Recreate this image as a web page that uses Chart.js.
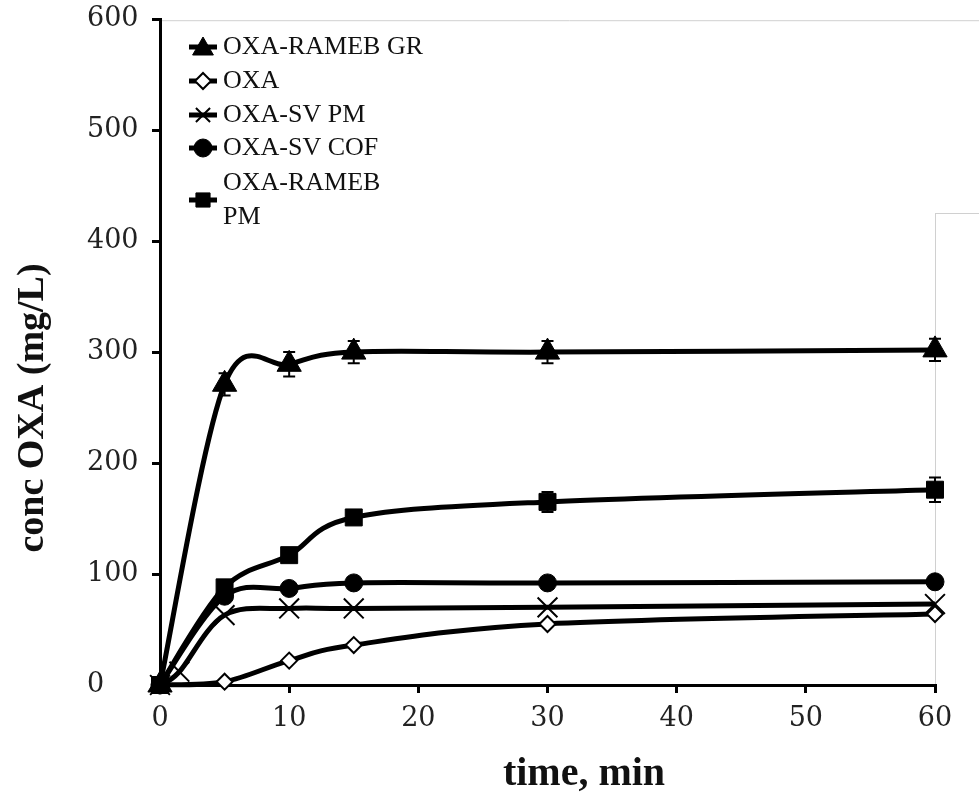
<!DOCTYPE html>
<html>
<head>
<meta charset="utf-8">
<title>conc OXA vs time</title>
<script src="https://cdn.jsdelivr.net/npm/chart.js@4.4.1/dist/chart.umd.min.js"></script>
<style>
  html, body { margin: 0; padding: 0; background: #fff; }
  #wrap { width: 979px; height: 799px; }
</style>
</head>
<body>
<div id="wrap"><canvas id="chart" width="979" height="799"></canvas></div>
<script>
// --- data (time in min, conc in mg/L) ---
const times = [0, 5, 10, 15, 30, 60];
const svPmTimes = [0, 1.5, 5, 10, 15, 30, 60];

const ramebGr = [0, 271, 289, 300, 300, 302];
const ramebGrErr = [0, 10, 11, 10, 10, 10];
const oxa = [0, 3, 22, 36, 55, 64];
const svPm = [0, 12, 63, 69, 69, 70, 73];
const svCof = [0, 80, 87, 92, 92, 93];
const ramebPm = [0, 88, 117, 151, 165, 176];
const ramebPmErr = [0, 4, 4, 5, 9, 11];

const xTicks = [0, 10, 20, 30, 40, 50, 60];
const yTicks = [0, 100, 200, 300, 400, 500, 600];

const seriesLabels = ['OXA-RAMEB GR', 'OXA', 'OXA-SV PM', 'OXA-SV COF', ['OXA-RAMEB', 'PM']];

const toPoints = (xs, ys) => xs.map((x, i) => ({ x: x, y: ys[i] }));

function series(label, xs, ys, style, extra) {
    return Object.assign({
        label: label,
        data: toPoints(xs, ys),
        borderColor: '#000',
        borderWidth: 5,
        tension: 0.4,
        pointBorderColor: '#000',
        pointBackgroundColor: '#000',
        pointStyle: style,
        clip: false
    }, extra || {});
}

const datasets = [
    series('OXA-RAMEB GR', times, ramebGr, 'triangle', { pointRadius: 14, pointBorderWidth: 1, err: ramebGrErr }),
    series('OXA', times, oxa, 'rectRot', { pointRadius: 8, pointBorderWidth: 2, pointBackgroundColor: '#fff' }),
    series('OXA-SV PM', svPmTimes, svPm, 'crossRot', { pointRadius: 14, pointBorderWidth: 2 }),
    series('OXA-SV COF', times, svCof, 'circle', { pointRadius: 9, pointBorderWidth: 1 }),
    series('OXA-RAMEB PM', times, ramebPm, 'rect', { pointRadius: 12, pointBorderWidth: 1, err: ramebPmErr })
];

// --- plugins ---

// Excel-like smoothing: uniform Catmull-Rom control points (1/6 of neighbour chord)
const excelSmooth = {
    id: 'excelSmooth',
    beforeDatasetDraw(chart, args) {
        const line = args.meta.dataset;
        const pts = args.meta.data;
        if (!line || pts.length < 2) return;
        line.updateControlPoints(chart.chartArea, 'x');
        const n = pts.length;
        for (let i = 0; i < n; i++) {
            const prev = pts[Math.max(i - 1, 0)];
            const next = pts[Math.min(i + 1, n - 1)];
            const dx = (next.x - prev.x) / 6;
            const dy = (next.y - prev.y) / 6;
            pts[i].cp1x = pts[i].x - dx;
            pts[i].cp1y = pts[i].y - dy;
            pts[i].cp2x = pts[i].x + dx;
            pts[i].cp2y = pts[i].y + dy;
        }
        line._path = undefined;
    }
};

const frameLines = {
    id: 'frameLines',
    beforeDraw(chart) {
        const { ctx, chartArea, scales } = chart;
        const yBreak = Math.round(scales.y.getPixelForValue(425)) + 0.5;
        ctx.save();
        ctx.strokeStyle = '#d0d0d0';
        ctx.lineWidth = 1;
        ctx.beginPath();
        ctx.moveTo(chartArea.left, chartArea.top + 1.5);
        ctx.lineTo(chart.width, chartArea.top + 1.5);
        ctx.moveTo(chartArea.right + 0.5, yBreak);
        ctx.lineTo(chartArea.right + 0.5, chartArea.bottom);
        ctx.moveTo(chartArea.right, yBreak);
        ctx.lineTo(chart.width, yBreak);
        ctx.stroke();
        ctx.restore();
    }
};

const errorBars = {
    id: 'errorBars',
    afterDatasetsDraw(chart) {
        const { ctx, scales } = chart;
        ctx.save();
        ctx.strokeStyle = '#000';
        ctx.lineWidth = 2;
        chart.data.datasets.forEach(ds => {
            if (!ds.err) return;
            ds.data.forEach((p, i) => {
                const e = ds.err[i];
                if (!e) return;
                const x = scales.x.getPixelForValue(p.x);
                const yTop = scales.y.getPixelForValue(p.y + e);
                const yBot = scales.y.getPixelForValue(p.y - e);
                ctx.beginPath();
                ctx.moveTo(x, yTop); ctx.lineTo(x, yBot);
                ctx.moveTo(x - 6, yTop); ctx.lineTo(x + 6, yTop);
                ctx.moveTo(x - 6, yBot); ctx.lineTo(x + 6, yBot);
                ctx.stroke();
            });
        });
        ctx.restore();
    }
};

const legendBox = {
    id: 'legendBox',
    afterDraw(chart) {
        const ctx = chart.ctx;
        const rows = [47, 81, 115, 148, 200];
        const mx = 203;
        ctx.save();
        ctx.font = '26px "Liberation Serif", serif';
        ctx.textBaseline = 'middle';
        chart.data.datasets.forEach((ds, i) => {
            const y = rows[i];
            ctx.strokeStyle = '#000';
            ctx.lineWidth = 5;
            ctx.beginPath();
            ctx.moveTo(mx - 14, y);
            ctx.lineTo(mx + 14, y);
            ctx.stroke();
            ctx.fillStyle = ds.pointBackgroundColor;
            ctx.strokeStyle = '#000';
            ctx.lineWidth = ds.pointBorderWidth;
            const r = ds.pointStyle === 'triangle' ? 12 : Math.min(ds.pointRadius, 10);
            Chart.helpers.drawPoint(ctx, {
                pointStyle: ds.pointStyle,
                rotation: 0,
                radius: r,
                borderWidth: ds.pointBorderWidth
            }, mx, y + (ds.pointStyle === 'triangle' ? 2 : 0));
            ctx.fillStyle = '#111';
            const lbl = seriesLabels[i];
            if (Array.isArray(lbl)) {
                ctx.fillText(lbl[0], mx + 20, y - 17);
                ctx.fillText(lbl[1], mx + 20, y + 17);
            } else {
                ctx.fillText(lbl, mx + 20, y);
            }
        });
        ctx.restore();
    }
};

const axisTitles = {
    id: 'axisTitles',
    afterDraw(chart) {
        const ctx = chart.ctx;
        ctx.save();
        ctx.fillStyle = '#111';
        ctx.font = 'bold 40px "Liberation Serif", serif';
        ctx.textAlign = 'center';
        ctx.textBaseline = 'alphabetic';
        ctx.fillText('time, min', 584, 785);
        ctx.translate(33, 408);
        ctx.rotate(-Math.PI / 2);
        ctx.font = 'bold 38px "Liberation Serif", serif';
        ctx.textBaseline = 'middle';
        ctx.fillText('conc OXA (mg/L)', 0, 0);
        ctx.restore();
    }
};

const axisStyle = {
    border: { color: '#000', width: 3 },
    grid: { drawOnChartArea: false, color: '#000', lineWidth: 3, tickLength: 8 }
};

new Chart(document.getElementById('chart'), {
    type: 'line',
    data: { datasets: datasets },
    options: {
        responsive: false,
        devicePixelRatio: 1,
        animation: false,
        layout: { padding: { left: 87, top: 19, right: 44, bottom: 0 } },
        plugins: { legend: { display: false }, tooltip: { enabled: false } },
        scales: {
            x: Object.assign({
                type: 'linear',
                min: xTicks[0],
                max: xTicks[xTicks.length - 1],
                afterFit: s => { s.height = 114; },
                afterBuildTicks: s => { s.ticks = xTicks.map(v => ({ value: v })); },
                ticks: {
                    color: '#222',
                    padding: 10,
                    maxRotation: 0,
                    font: { family: '"DejaVu Serif", serif', size: 27 }
                }
            }, axisStyle),
            y: Object.assign({
                type: 'linear',
                min: yTicks[0],
                max: yTicks[yTicks.length - 1],
                afterFit: s => { s.width = 73; },
                afterBuildTicks: s => { s.ticks = yTicks.map(v => ({ value: v })); },
                ticks: {
                    color: '#222',
                    crossAlign: 'far',
                    font: { family: '"DejaVu Serif", serif', size: 27 }
                }
            }, axisStyle)
        }
    },
    plugins: [excelSmooth, frameLines, errorBars, legendBox, axisTitles]
});
</script>
</body>
</html>
